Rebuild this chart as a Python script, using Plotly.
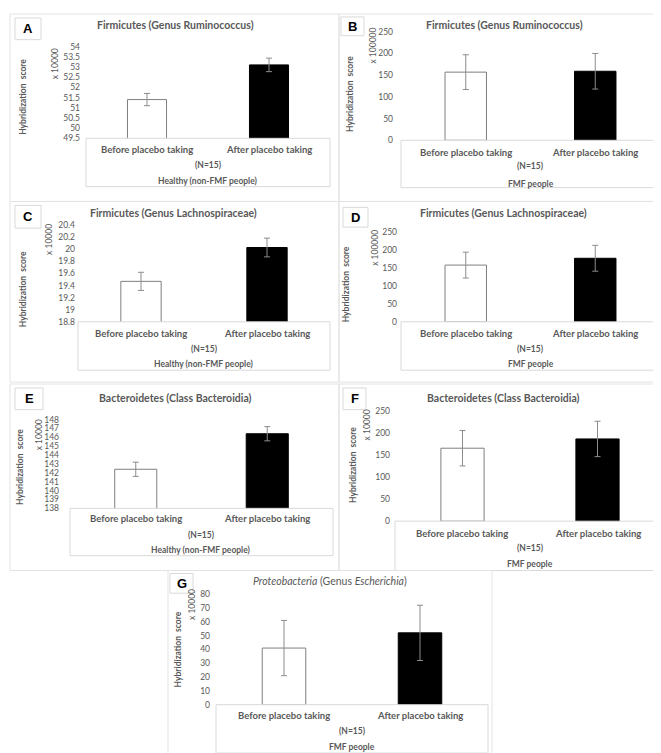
import plotly.graph_objects as go

W, H = 661, 753

categories = ["Before placebo taking", "After placebo taking"]

# hybridization scores (mean) and error bar half-widths, per panel
rumino_healthy = [51.4, 53.1]
rumino_healthy_err = [0.3, 0.33]
rumino_fmf = [157, 159]
rumino_fmf_err = [40, 41]
lachno_healthy = [19.47, 20.03]
lachno_healthy_err = [0.15, 0.155]
lachno_fmf = [158, 177]
lachno_fmf_err = [36, 36]
bactero_healthy = [142.4, 146.4]
bactero_healthy_err = [0.8, 0.8]
bactero_fmf = [165, 186]
bactero_fmf_err = [40, 40]
escher_fmf = [41, 52]
escher_fmf_err = [20, 20]

panel_letters = ["A", "B", "C", "D", "E", "F", "G"]
panel_titles = [
    "Firmicutes (Genus Ruminococcus)",
    "Firmicutes (Genus Ruminococcus)",
    "Firmicutes (Genus Lachnospiraceae)",
    "Firmicutes (Genus Lachnospiraceae)",
    "Bacteroidetes (Class Bacteroidia)",
    "Bacteroidetes (Class Bacteroidia)",
    "<i>Proteobacteria</i> (Genus <i>Escherichia</i>)",
]
group_labels = ["Healthy (non-FMF people)", "FMF people"] * 3 + ["FMF people"]
scale_labels = ["x 10000", "x 100000", "x 10000", "x 100000", "x 10000", "x 10000", "x 10000"]
y_ranges = [[49.5, 54], [0, 250], [18.8, 20.4], [0, 250], [138, 148], [0, 250], [0, 80]]
y_dticks = [0.5, 50, 0.2, 50, 1, 50, 10]

values = [rumino_healthy, rumino_fmf, lachno_healthy, lachno_fmf,
          bactero_healthy, bactero_fmf, escher_fmf]
errors = [rumino_healthy_err, rumino_fmf_err, lachno_healthy_err, lachno_fmf_err,
          bactero_healthy_err, bactero_fmf_err, escher_fmf_err]

# pixel layout of each panel: frame, plot area, table bottom, text rows
panels = [
    dict(frame=(2, 1, 331, 191), plot=(78, 34, 322, 127), tbl=176, title=(167, 12), gap=5,
         rows=(138, 154, 170), ytitle=(15, 85), scale=(47, 52), box=(7, 5, 33, 27)),
    dict(frame=(331, 1, 659, 191), plot=(393, 19, 652, 129), tbl=177, title=(496, 12), gap=7,
         rows=(141, 155, 173), ytitle=(342, 82), scale=(365, 33), box=(333, 4, 356, 23)),
    dict(frame=(2, 191, 331, 374), plot=(70, 215, 322, 313), tbl=362, title=(165, 203), gap=2,
         rows=(325, 341, 356), ytitle=(15, 280), scale=(41, 230), box=(7, 195, 33, 218)),
    dict(frame=(331, 191, 659, 374), plot=(393, 222, 652, 313), tbl=362, title=(495, 203), gap=3,
         rows=(325, 341, 356), ytitle=(338, 275), scale=(367, 238), box=(335, 197, 360, 217)),
    dict(frame=(2, 376, 331, 565), plot=(62, 412, 325, 502), tbl=550, title=(167, 390), gap=10,
         rows=(512, 529, 544), ytitle=(12, 460), scale=(31, 428), box=(7, 380, 35, 402)),
    dict(frame=(331, 376, 659, 565), plot=(387, 403, 657, 515), tbl=565, title=(495, 390), gap=4,
         rows=(527, 542, 558), ytitle=(345, 458), scale=(359, 418), box=(335, 380, 358, 402)),
    dict(frame=(160, 565, 484, 752), plot=(208, 589, 480, 701), tbl=750, title=(322, 576), gap=5,
         rows=(712, 728, 744), ytitle=(170, 645), scale=(184, 600), box=(162, 568, 185, 588)),
]

FONT = "Lato, Carlito, Arial"
GREY = "#595959"
LINE = "#d9d9d9"


def px(x):
    return x / W


def py(y):
    return 1 - y / H


fig = go.Figure()
shapes = []
annotations = []

for i, p in enumerate(panels):
    n = "" if i == 0 else str(i + 1)
    x0, y0, x1, y1 = p["plot"]

    fig.add_bar(
        x=categories, y=values[i], width=0.32,
        marker=dict(color=["white", "black"], line=dict(color=["#7f7f7f", "black"], width=1)),
        error_y=dict(type="data", array=errors[i], color="#8c8c8c", thickness=1, width=3),
        xaxis="x" + n, yaxis="y" + n, showlegend=False,
    )
    fig.layout["xaxis" + n] = dict(
        domain=[px(x0), px(x1)], anchor="y" + n, type="category", range=[-0.5, 1.5],
        showticklabels=False, showgrid=False, showline=False, zeroline=False, fixedrange=True,
    )
    fig.layout["yaxis" + n] = dict(
        domain=[py(y1), py(y0)], anchor="x" + n, range=y_ranges[i], dtick=y_dticks[i],
        showgrid=False, showline=False, zeroline=False, ticks="", ticklabelstandoff=p["gap"],
        tickfont=dict(family=FONT, size=8.5, color=GREY),
    )

    # panel frame
    fx0, fy0, fx1, fy1 = p["frame"]
    shapes.append(dict(type="rect", xref="paper", yref="paper", x0=px(fx0), x1=px(fx1),
                       y0=py(fy1), y1=py(fy0), line=dict(color="#e3e3e3", width=1)))
    # category table under the plot
    shapes.append(dict(type="rect", xref="paper", yref="paper", x0=px(x0), x1=px(x1),
                       y0=py(p["tbl"]), y1=py(y1), line=dict(color=LINE, width=1)))
    # letter box
    bx0, by0, bx1, by1 = p["box"]
    shapes.append(dict(type="rect", xref="paper", yref="paper", x0=px(bx0), x1=px(bx1),
                       y0=py(by1), y1=py(by0), line=dict(color=LINE, width=1), fillcolor="white"))
    annotations.append(dict(x=px((bx0 + bx1) / 2), y=py((by0 + by1) / 2), text="<b>%s</b>" % panel_letters[i],
                            font=dict(family="Arial", size=13, color="black")))

    annotations.append(dict(x=px(p["title"][0]), y=py(p["title"][1]), text="<b>%s</b>" % panel_titles[i]
                            if i < 6 else panel_titles[i],
                            font=dict(family=FONT, size=10.5, color=GREY)))
    cx = [x0 + (x1 - x0) * 0.25, x0 + (x1 - x0) * 0.75]
    for c, label in zip(cx, categories):
        annotations.append(dict(x=px(c), y=py(p["rows"][0]), text="<b>%s</b>" % label,
                                font=dict(family=FONT, size=9.5, color=GREY)))
    annotations.append(dict(x=px((x0 + x1) / 2), y=py(p["rows"][1]), text="<b>(N=15)</b>",
                            font=dict(family=FONT, size=8.5, color=GREY)))
    annotations.append(dict(x=px((x0 + x1) / 2), y=py(p["rows"][2]), text="<b>%s</b>" % group_labels[i],
                            font=dict(family=FONT, size=8.5, color=GREY)))
    annotations.append(dict(x=px(p["ytitle"][0]), y=py(p["ytitle"][1]), text="<b>Hybridization  score</b>",
                            textangle=-90, font=dict(family=FONT, size=8.5, color=GREY)))
    annotations.append(dict(x=px(p["scale"][0]), y=py(p["scale"][1]), text=scale_labels[i],
                            textangle=-90, font=dict(family=FONT, size=8.5, color=GREY)))

for a in annotations:
    a.update(xref="paper", yref="paper", showarrow=False, xanchor="center", yanchor="middle")

fig.update_layout(
    width=W, height=H,
    margin=dict(l=0, r=0, t=0, b=0),
    paper_bgcolor="white", plot_bgcolor="white",
    shapes=shapes, annotations=annotations,
    bargap=0.5,
)

fig.write_html("out.html")
